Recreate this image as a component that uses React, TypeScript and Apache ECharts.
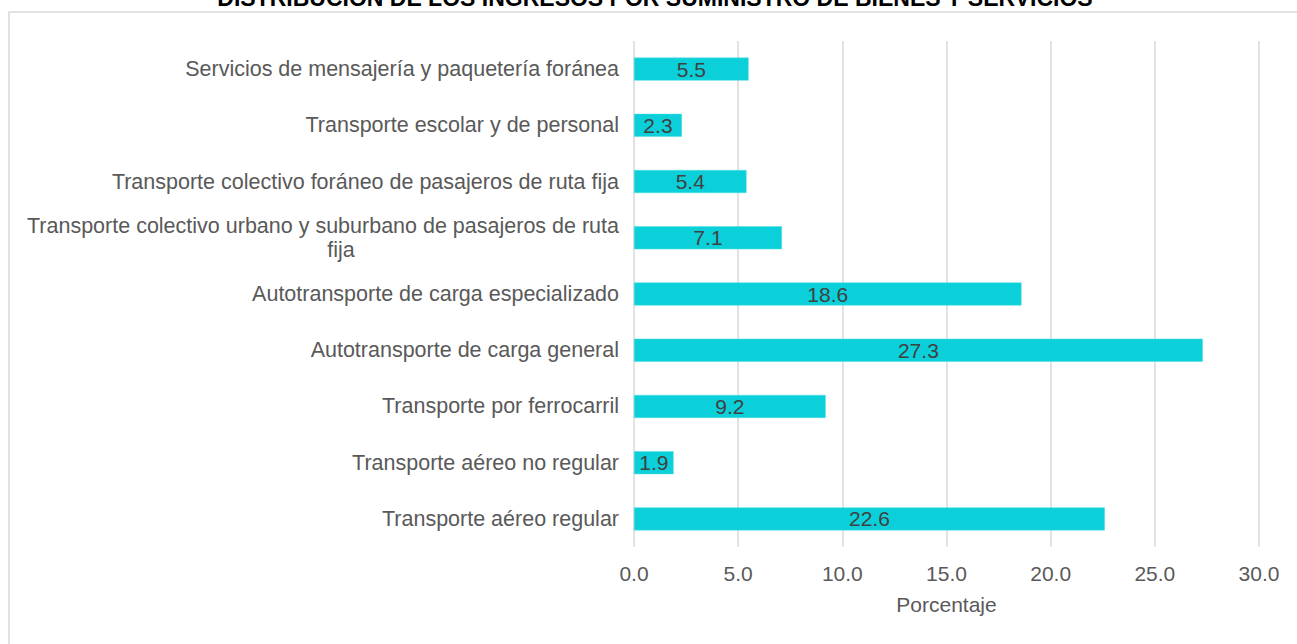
import React, { useEffect, useRef } from "react";
import * as echarts from "echarts";

const titleText = "DISTRIBUCIÓN DE LOS INGRESOS POR SUMINISTRO DE BIENES Y SERVICIOS";
// bottom to top
const categories = [
  "Transporte aéreo regular",
  "Transporte aéreo no regular",
  "Transporte por ferrocarril",
  "Autotransporte de carga general",
  "Autotransporte de carga especializado",
  "Transporte colectivo urbano y suburbano de pasajeros de ruta\nfija",
  "Transporte colectivo foráneo de pasajeros de ruta fija",
  "Transporte escolar y de personal",
  "Servicios de mensajería y paquetería foránea",
];
const values = [22.6, 1.9, 9.2, 27.3, 18.6, 7.1, 5.4, 2.3, 5.5];
const xTicks = { min: 0, max: 30, interval: 5 };
const axisName = "Porcentaje";

const FONT = "'Liberation Sans', Arial, sans-serif";

export default function App() {
  const ref = useRef<HTMLDivElement>(null);
  useEffect(() => {
    if (!ref.current) return;
    const chart = echarts.init(ref.current, undefined, { renderer: "svg" });
    chart.setOption({
      animation: false,
      backgroundColor: "#ffffff",
      textStyle: { fontFamily: FONT },
      graphic: [
        {
          type: "rect",
          shape: { x: 9, y: 12, width: 1400, height: 800 },
          style: { fill: "none", stroke: "#D9D9D9", lineWidth: 1.5 },
          silent: true,
        },
        {
          type: "text",
          x: 655,
          y: 9,
          style: {
            text: titleText,
            font: `bold 23px ${FONT}`,
            fill: "#000000",
            textAlign: "center",
            textVerticalAlign: "bottom",
          },
        },
      ],
      grid: { left: 634, right: 38, top: 41, bottom: 97, containLabel: false },
      xAxis: {
        type: "value",
        min: xTicks.min,
        max: xTicks.max,
        interval: xTicks.interval,
        name: axisName,
        nameLocation: "middle",
        nameGap: 47,
        nameTextStyle: { color: "#595959", fontSize: 21, fontFamily: FONT },
        axisLine: { show: false },
        axisTick: { show: false },
        axisLabel: {
          color: "#595959",
          fontSize: 21,
          fontFamily: FONT,
          margin: 16,
          formatter: (v: number) => v.toFixed(1),
        },
        splitLine: { show: true, lineStyle: { color: "#D9D9D9", width: 1.5 } },
      },
      yAxis: {
        type: "category",
        data: categories,
        axisLine: { show: false },
        axisTick: { show: false },
        axisLabel: {
          color: "#595959",
          fontSize: 21.5,
          fontFamily: FONT,
          margin: 15,
          lineHeight: 24,
          formatter: (v: string) =>
            v
              .split("\n")
              .map((l, i) => (i === 0 ? `{c|${l}}` : `{f|${l}}`))
              .join("\n"),
          rich: {
            c: {
              color: "#595959",
              fontSize: 21.5,
              fontFamily: FONT,
              lineHeight: 24,
              align: "center",
            },
            f: {
              color: "#595959",
              fontSize: 21.5,
              fontFamily: FONT,
              lineHeight: 24,
              align: "center",
              padding: [0, 0, 0, 36],
            },
          },
        },
      },
      series: [
        {
          type: "bar",
          data: values,
          barWidth: 23,
          itemStyle: { color: "#0BD0D9", borderColor: "#4FDDE3", borderWidth: 0.5 },
          label: {
            show: true,
            position: "inside",
            color: "#404040",
            fontSize: 21,
            fontFamily: FONT,
            formatter: (p: any) => Number(p.value).toFixed(1),
          },
        },
      ],
    });
    return () => chart.dispose();
  }, []);
  return (
    <div
      ref={ref}
      style={{ position: "fixed", left: 0, top: 0, width: 1297, height: 644 }}
    />
  );
}
